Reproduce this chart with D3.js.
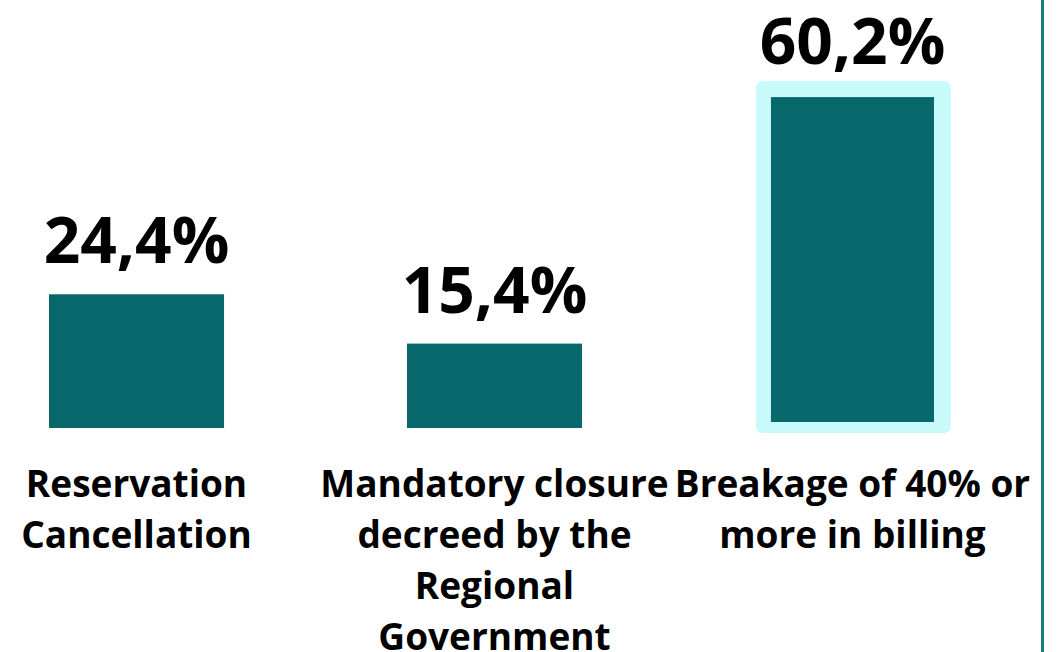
<!DOCTYPE html>
<html>
<head>
<meta charset="utf-8">
<script src="https://cdn.jsdelivr.net/npm/d3@7"></script>
<style>
  html, body { margin: 0; padding: 0; background: #ffffff; }
  svg { display: block; }
  text { font-family: "Open Sans", "Noto Sans", sans-serif; font-weight: 700; fill: #000; }
</style>
</head>
<body>
<svg id="chart" width="1059" height="652"></svg>
<script>
// ---- data ----
const categories = [
  "Reservation Cancellation",
  "Mandatory closure decreed by the Regional Government",
  "Breakage of 40% or more in billing"
];
const categoryLines = [
  ["Reservation", "Cancellation"],
  ["Mandatory closure", "decreed by the", "Regional", "Government"],
  ["Breakage of 40% or", "more in billing"]
];
const values = [24.4, 15.4, 60.2];
const valueLabels = ["24,4%", "15,4%", "60,2%"];
const highlighted = [false, false, true];

// ---- layout ----
const W = 1059, H = 652;
const baseline = 428;
const svg = d3.select("#chart");

const x = d3.scaleBand()
  .domain(categories)
  .range([49, 940])
  .paddingInner(0.511)
  .paddingOuter(0);

const y = d3.scaleLinear()
  .domain([0, 70])
  .range([baseline, baseline - 70 * 5.48]);

const barColor = "#08676B";
const glowColor = "#C8F9FB";

const data = categories.map((c, i) => ({
  cat: c, v: values[i], label: valueLabels[i], lines: categoryLines[i], hi: highlighted[i]
}));

// highlight backgrounds
svg.selectAll("rect.glow")
  .data(data.filter(d => d.hi))
  .join("rect")
  .attr("class", "glow")
  .attr("x", d => x(d.cat) - 9)
  .attr("y", d => y(d.v) - 17)
  .attr("width", x.bandwidth() + 20)
  .attr("height", d => baseline + 5 - (y(d.v) - 17))
  .attr("rx", 7)
  .attr("fill", glowColor);

// bars
svg.selectAll("rect.bar")
  .data(data)
  .join("rect")
  .attr("class", "bar")
  .attr("x", d => x(d.cat) + (d.hi ? 6 : 0))
  .attr("y", d => y(d.v) - (d.hi ? 1 : 0))
  .attr("width", d => x.bandwidth() - (d.hi ? 12 : 0))
  .attr("height", d => baseline - (d.hi ? 6 : 0) - y(d.v) + (d.hi ? 1 : 0))
  .attr("fill", barColor);

// value labels
svg.selectAll("text.val")
  .data(data)
  .join("text")
  .attr("class", "val")
  .attr("x", d => x(d.cat) + x.bandwidth() / 2)
  .attr("y", d => y(d.v) - (d.hi ? 34 : 31))
  .attr("text-anchor", "middle")
  .style("font-size", "64px")
  .text(d => d.label);

// category labels
const cat = svg.selectAll("text.cat")
  .data(data)
  .join("text")
  .attr("class", "cat")
  .attr("text-anchor", "middle")
  .style("font-size", "37px");
cat.selectAll("tspan")
  .data(d => d.lines.map((l, j) => ({ l, j, cx: x(d.cat) + x.bandwidth() / 2 })))
  .join("tspan")
  .attr("x", t => t.cx)
  .attr("y", t => 497 + t.j * 51)
  .text(t => t.l);

// right border line
svg.append("line")
  .attr("x1", 1042.5).attr("x2", 1042.5)
  .attr("y1", 0).attr("y2", H)
  .attr("stroke", "#1B7C7C")
  .attr("stroke-width", 3);
</script>
</body>
</html>
